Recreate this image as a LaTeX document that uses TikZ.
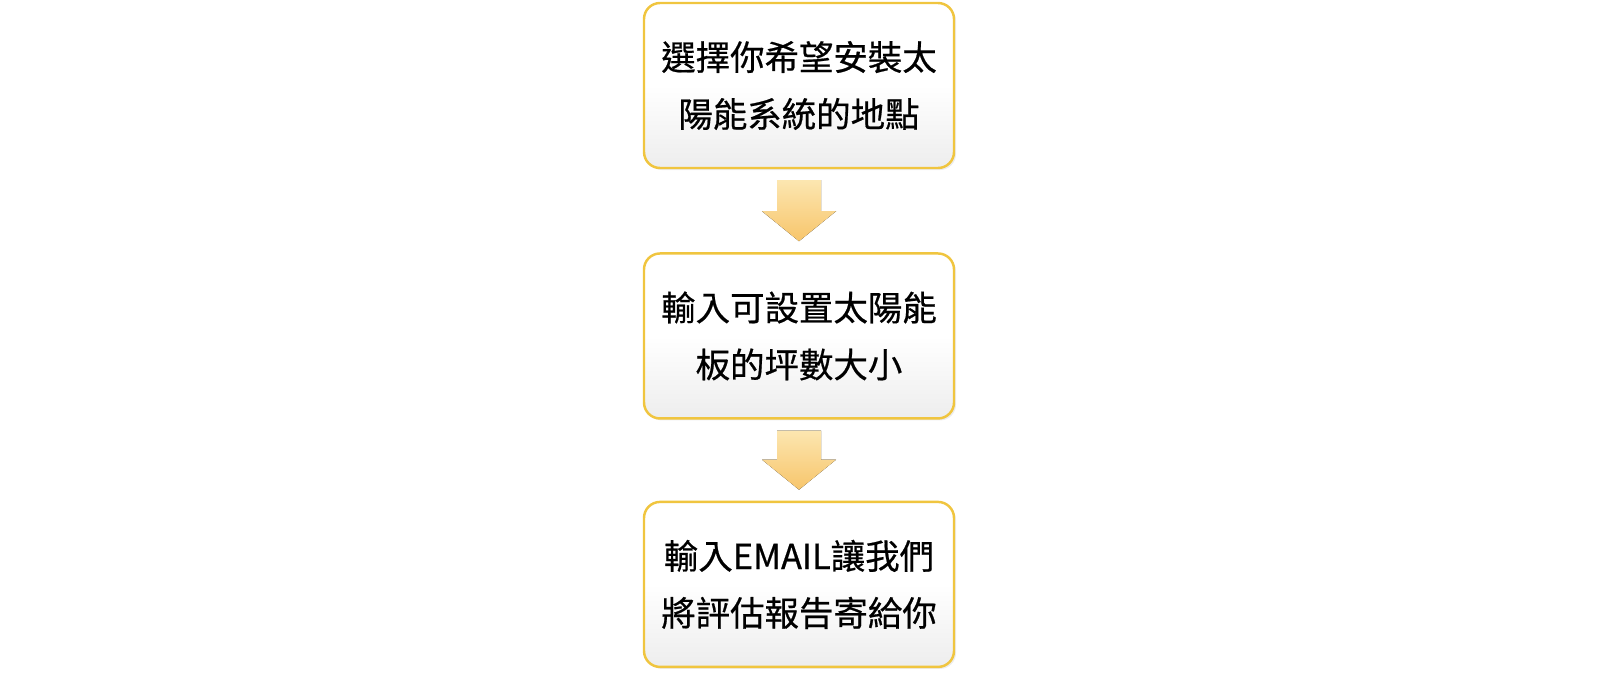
\documentclass[tikz,border=0pt]{standalone}
\usepackage{fontspec}
\newfontfamily\cjk[FakeBold=0.6]{Noto Sans CJK TC}
\usetikzlibrary{positioning,calc,shadows}
\definecolor{boxline}{HTML}{F0C53F}
\definecolor{arrowtop}{HTML}{FCE6B0}
\definecolor{arrowbot}{HTML}{F7C56B}
\tikzset{
  stepbox/.style={draw=boxline, line width=0.7pt, rounded corners=0.16cm,
    top color=white, bottom color=gray!14, middle color=white,
    minimum width=3.1cm, minimum height=1.65cm, align=center,
    font=\cjk\fontsize{9.8pt}{16.2pt}\selectfont,
    drop shadow={shadow xshift=0.02cm, shadow yshift=-0.02cm, opacity=0.15}},
  downarrow/.style={top color=arrowtop, bottom color=arrowbot, draw=none}
}
\begin{document}
\begin{tikzpicture}
  \useasboundingbox (0,0) rectangle (16,-6.78);
  % the three steps
  \node[stepbox] (pick) at (7.99,-0.855) {選擇你希望安裝太\\陽能系統的地點};
  \node[stepbox, below=0.83cm of pick] (area) {輸入可設置太陽能\\板的坪數大小};
  \node[stepbox, below=0.81cm of area] (mail) {輸入EMAIL讓我們\\將評估報告寄給你};

  % block arrows between the steps
  \foreach \from/\to in {pick/area, area/mail} {
    \coordinate (top) at ($(\from.south)+(0,-0.11)$);
    \coordinate (tip) at ($(\to.north)+(0,0.11)$);
    \fill[downarrow] ($(top)+(-0.22,0)$) -- ($(top)+(0.22,0)$)
      -- ($(tip)+(0.22,0.30)$) -- ($(tip)+(0.37,0.30)$) -- (tip)
      -- ($(tip)+(-0.37,0.30)$) -- ($(tip)+(-0.22,0.30)$) -- cycle;
  }
\end{tikzpicture}
\end{document}
